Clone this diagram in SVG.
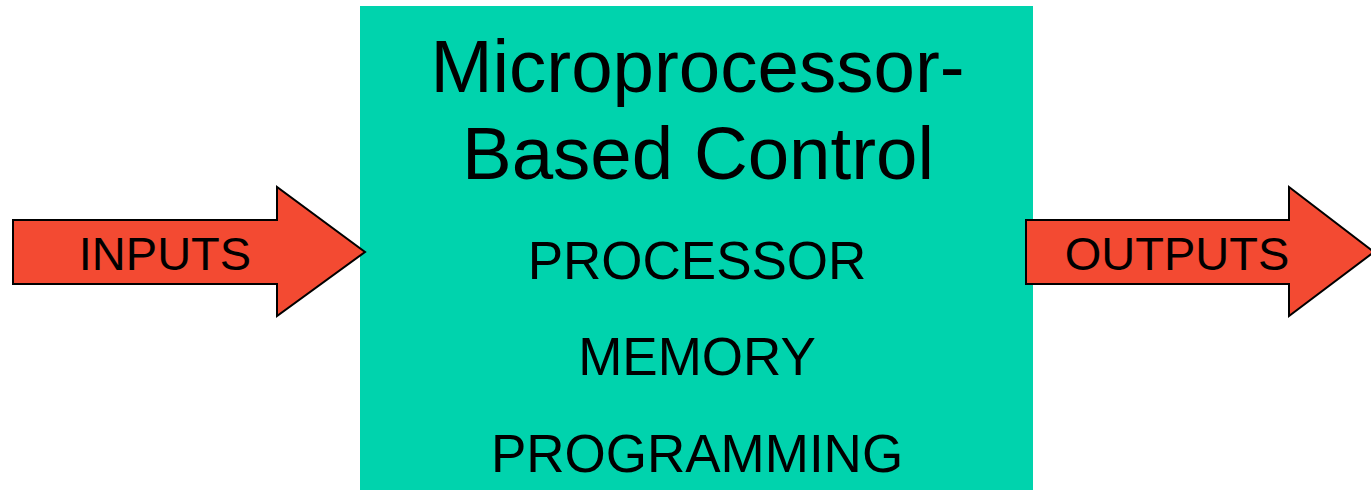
<svg xmlns="http://www.w3.org/2000/svg" width="1371" height="490" viewBox="0 0 1371 490">
<style>
.arrow{fill:#F34A32;stroke:#000;stroke-width:2;stroke-linejoin:miter}
.box{fill:#00D3AD}
text{font-family:"Liberation Sans",Arial,sans-serif;fill:#000;text-anchor:middle}
.title{font-size:74.5px}
.item{font-size:53px}
.lbl{font-size:47px}
</style>
<rect width="1371" height="490" fill="#fff"/>
<g id="control">
<rect class="box" x="360" y="6" width="673" height="484"/>
<text class="title" x="697.5" y="92">Microprocessor-</text>
<text class="title" x="698" y="179">Based Control</text>
<text class="item" x="697" y="279">PROCESSOR</text>
<text class="item" x="697" y="375">MEMORY</text>
<text class="item" x="697" y="472">PROGRAMMING</text>
</g>
<g id="connectors">
<g id="inputs">
<polygon class="arrow" points="13,220 277,220 277,187 365,252 277,316 277,284 13,284"/>
<text class="lbl" x="165" y="270">INPUTS</text>
</g>
<g id="outputs">
<polygon class="arrow" points="1026,220 1289,220 1289,187 1374,252 1289,316 1289,284 1026,284"/>
<text class="lbl" x="1177" y="270">OUTPUTS</text>
</g>
</g>
</svg>
